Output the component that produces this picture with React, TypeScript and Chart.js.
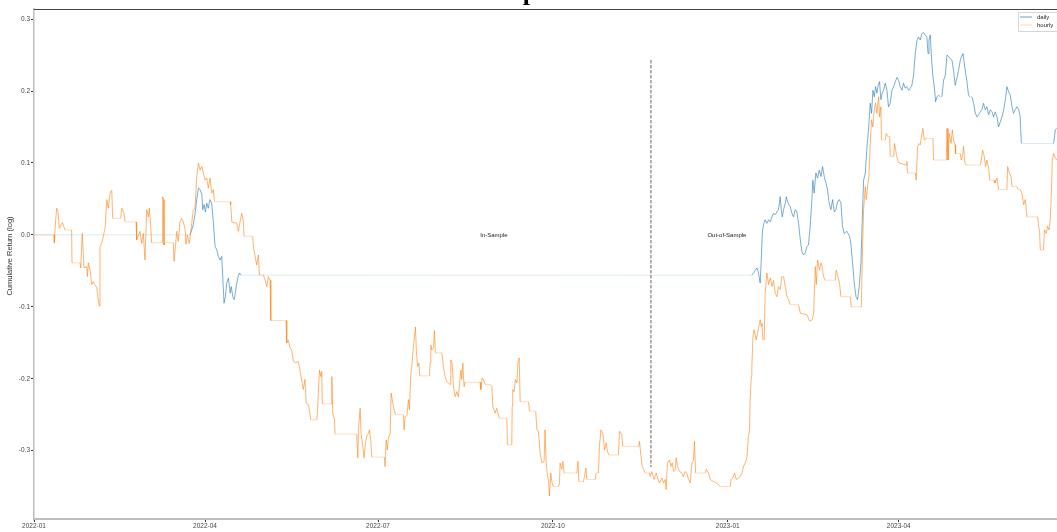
import React, { useEffect, useRef } from 'react';
import { Chart, registerables } from 'chart.js';

Chart.register(...registerables);

// ---- data (x = days since 2022-01-01, y = cumulative log return) ----
const seriesNames = ['daily', 'hourly'];

const dailySeries: [number, number][] = [
  [0,0],[82.1,0],[83.0,0.007],[83.8,0.014],[84.7,0.028],[85.6,0.049],[86.5,0.065],[87.4,0.063],[88.3,0.056],[88.8,0.035],[89.5,0.042],[90.2,0.032],[90.9,0.044],[91.7,0.037],[92.6,0.049],[93.5,0.044],[94.4,0.016],[95.3,-0.016],[96.2,-0.021],[97.0,-0.030],[97.9,-0.035],[98.8,-0.030],[99.3,-0.058],[100.0,-0.095],[100.7,-0.086],[101.4,-0.067],[102.3,-0.060],[103.2,-0.081],[103.8,-0.072],[104.6,-0.086],[105.3,-0.090],[105.9,-0.081],[106.7,-0.067],[107.4,-0.058],[108.1,-0.053],[108.8,-0.056],
  [377.7,-0.056],[378.6,-0.053],[379.5,-0.049],[380.4,-0.046],[381.2,-0.053],[382.1,-0.067],[382.6,-0.039],[383.2,0.002],[383.8,0.014],[384.7,0.021],[385.6,0.016],[386.5,0.021],[387.4,0.018],[388.3,0.025],[389.1,0.030],[390.0,0.028],[390.9,0.032],[391.7,0.035],[392.3,0.046],[392.6,0.053],[393.2,0.035],[393.7,0.025],[394.4,0.035],[395.3,0.044],[395.8,0.053],[396.5,0.046],[397.2,0.042],[397.9,0.039],[398.8,0.030],[399.6,0.025],[400.5,0.035],[401.4,0.032],[402.3,0.016],[403.2,-0.007],[404.0,-0.023],[404.9,-0.028],[405.8,-0.025],[406.7,-0.016],[407.5,-0.014],
  [408.4,0.012],[409.3,0.049],[409.8,0.076],[410.5,0.058],[411.4,0.086],[412.3,0.079],[413.2,0.090],[414.1,0.081],[414.9,0.095],[415.8,0.081],[416.7,0.072],[417.5,0.063],[418.4,0.044],[419.3,0.035],[420.2,0.049],[421.1,0.032],[421.9,0.035],[422.8,0.046],[423.7,0.049],[424.6,0.044],[425.4,0.012],[426.3,0.002],[427.7,0.005],[429.1,-0.002],[429.8,-0.012],[430.7,-0.039],[431.6,-0.067],[432.5,-0.086],[433.3,-0.090],[434.2,-0.072],[435.1,-0.039],[435.8,0.021],[436.5,0.076],[437.4,0.086],[438.3,0.123],[439.1,0.146],[440.0,0.183],[440.7,0.169],[441.4,0.201],[442.1,0.192],[442.8,0.206],[443.5,0.197],[444.2,0.208],[444.9,0.213],[445.6,0.188],[446.3,0.197],[447.0,0.201],[447.9,0.211],[448.8,0.201],[449.6,0.178],[450.5,0.183],[451.4,0.201],[452.3,0.206],[453.2,0.213],[454.1,0.219],[454.9,0.215],[455.8,0.206],[456.7,0.201],[457.5,0.211],[458.4,0.204],[459.3,0.206],[460.2,0.201],[461.1,0.204],[461.9,0.208],[462.8,0.222],[463.7,0.252],[464.6,0.271],[465.4,0.275],[466.3,0.271],[467.2,0.280],[468.1,0.281],[468.9,0.278],[469.8,0.275],[470.4,0.252],[470.9,0.271],[471.6,0.278],[472.3,0.243],[473.0,0.220],[473.7,0.206],[474.4,0.185],[475.1,0.192],[476.0,0.194],[476.8,0.192],[477.7,0.192],[478.6,0.215],[479.5,0.222],[480.4,0.250],[481.2,0.248],[482.1,0.245],[483.0,0.243],[483.8,0.229],[484.7,0.208],[485.6,0.218],[486.5,0.229],[487.4,0.243],[488.3,0.250],[488.8,0.252],[489.5,0.238],[490.2,0.225],[490.9,0.213],[491.7,0.194],[492.6,0.192],[493.5,0.192],[494.4,0.183],[495.3,0.169],[496.2,0.164],[497.0,0.167],[497.9,0.171],[498.8,0.174],[499.6,0.183],[500.5,0.174],[501.4,0.178],[502.3,0.167],[503.2,0.174],[504.1,0.171],[504.9,0.164],[505.8,0.171],[506.7,0.164],[507.5,0.150],[508.4,0.157],[509.3,0.164],[510.2,0.174],[511.1,0.188],[511.9,0.206],[512.8,0.199],[513.7,0.194],[514.6,0.178],[515.4,0.169],[516.3,0.174],[517.2,0.178],[518.1,0.174],[518.9,0.164],[519.5,0.127],[536.5,0.127],[537.4,0.146],[538.2,0.148]
];

const hourlySeries: [number, number][] = [
  [0,0],[10.6,0],[10.7,-0.011],[11.1,0.009],[11.9,0.037],[12.6,0.032],[13.3,0.009],[14.9,0.017],[16.3,0.007],[19.8,0.007],[20.0,-0.039],[24.2,-0.039],[24.6,-0.046],[25.4,0.002],[26.3,-0.046],[27.7,-0.044],[28.1,-0.058],[28.6,-0.039],[29.5,-0.049],[30.4,-0.069],[31.2,-0.065],[32.5,-0.072],[33.0,-0.072],[33.8,-0.090],[34.4,-0.099],[34.7,-0.016],[35.6,-0.012],[37.4,0.009],[38.3,0.049],[39.1,0.037],[40.0,0.058],[40.9,0.062],[41.4,0.023],[45.6,0.023],[46.2,0.037],[47.4,0.030],[47.9,0.018],[53.7,0.018],[54.0,-0.007],[55.8,0.005],[56.7,-0.012],[57.5,0.002],[58.4,-0.035],[59.3,0.035],[60.2,0.025],[60.7,0.037],[61.4,0.012],[61.9,-0.011],[67.5,-0.011],[67.7,0.053],[68.3,0.049],[68.4,-0.014],[68.9,-0.011],[73.3,-0.011],[73.7,-0.037],[75.1,0.005],[75.9,-0.009],[76.8,0.018],[77.7,0.023],[78.6,0.018],[79.5,0.007],[80.0,-0.013],[80.7,0.000],[81.7,-0.012],[83.0,0.016],[83.8,0.035],[84.7,0.037],[85.6,0.079],[86.5,0.100],[87.4,0.090],[88.3,0.095],[89.1,0.086],[90.0,0.076],[90.9,0.079],[91.7,0.065],[92.6,0.079],[93.5,0.058],[94.4,0.063],[94.9,0.046],[103.2,0.046],[103.5,0.042],[104.1,0.018],[106.7,0.016],[107.5,0.005],[108.4,0.018],[109.3,0.030],[110.2,0.018],[110.5,-0.002],[115.1,-0.002],[115.4,-0.016],[117.2,-0.042],[118.1,-0.028],[118.6,-0.056],[120.7,-0.056],[121.6,-0.063],[122.5,-0.072],[123.3,-0.058],[124.2,-0.063],[124.6,-0.119],[132.6,-0.119],[133.0,-0.150],[133.8,-0.146],[134.7,-0.157],[135.6,-0.160],[136.5,-0.176],[137.4,-0.178],[139.1,-0.176],[139.6,-0.183],[141.7,-0.215],[142.6,-0.201],[143.2,-0.234],[144.4,-0.236],[144.9,-0.243],[145.6,-0.257],[148.8,-0.257],[149.1,-0.248],[150.2,-0.188],[150.9,-0.197],[151.4,-0.190],[151.7,-0.235],[156.3,-0.235],[156.7,-0.197],[157.2,-0.248],[158.1,-0.257],[158.4,-0.277],[169.8,-0.277],[170.4,-0.310],[170.7,-0.271],[171.6,-0.241],[172.1,-0.276],[173.0,-0.294],[173.7,-0.310],[174.4,-0.289],[175.1,-0.280],[176.0,-0.276],[176.5,-0.271],[177.2,-0.285],[177.7,-0.309],[184.4,-0.309],[184.7,-0.322],[185.3,-0.285],[185.9,-0.299],[186.5,-0.282],[187.4,-0.276],[187.9,-0.220],[188.8,-0.234],[189.5,-0.243],[190.2,-0.250],[194.4,-0.250],[194.7,-0.271],[195.3,-0.252],[196.2,-0.252],[197.0,-0.229],[197.5,-0.243],[198.3,-0.192],[198.8,-0.183],[199.6,-0.155],[200.2,-0.141],[200.7,-0.128],[201.2,-0.164],[201.9,-0.183],[202.5,-0.178],[203.0,-0.196],[208.1,-0.196],[208.4,-0.178],[208.8,-0.153],[209.3,-0.160],[210.2,-0.157],[210.7,-0.133],[211.2,-0.164],[214.6,-0.164],[215.4,-0.183],[216.3,-0.197],[217.2,-0.204],[218.1,-0.206],[218.9,-0.208],[219.3,-0.174],[220.0,-0.178],[220.7,-0.211],[221.6,-0.225],[222.5,-0.218],[223.3,-0.225],[223.8,-0.211],[224.6,-0.188],[225.1,-0.201],[225.6,-0.178],[226.3,-0.211],[226.8,-0.205],[234.7,-0.205],[235.1,-0.215],[235.8,-0.199],[236.5,-0.201],[237.4,-0.208],[240.0,-0.208],[240.9,-0.211],[241.4,-0.238],[242.6,-0.248],[243.5,-0.241],[244.4,-0.252],[244.9,-0.255],[248.8,-0.255],[249.1,-0.292],[251.4,-0.292],[251.6,-0.238],[251.9,-0.215],[252.6,-0.218],[253.3,-0.201],[254.1,-0.206],[254.6,-0.178],[255.3,-0.171],[255.8,-0.232],[260.2,-0.232],[260.7,-0.245],[264.0,-0.245],[264.6,-0.271],[265.4,-0.273],[266.3,-0.303],[267.2,-0.317],[268.4,-0.315],[268.9,-0.271],[269.5,-0.317],[270.2,-0.336],[270.7,-0.340],[271.2,-0.363],[271.9,-0.331],[272.6,-0.345],[273.3,-0.350],[275.9,-0.350],[276.5,-0.345],[276.8,-0.317],[277.7,-0.326],[278.3,-0.315],[278.9,-0.331],[285.6,-0.331],[286.2,-0.315],[286.7,-0.343],[289.1,-0.343],[289.6,-0.336],[290.4,-0.324],[290.9,-0.340],[295.3,-0.340],[295.8,-0.331],[297.0,-0.331],[297.5,-0.294],[298.3,-0.271],[299.3,-0.276],[300.2,-0.299],[301.1,-0.289],[301.7,-0.301],[302.5,-0.306],[307.5,-0.306],[308.1,-0.273],[309.3,-0.278],[309.8,-0.294],[318.1,-0.294],[318.6,-0.287],[319.3,-0.306],[320.0,-0.322],[320.7,-0.326],[321.6,-0.331],[323.8,-0.331],[324.2,-0.336],[325.1,-0.329],[326.3,-0.340],[327.4,-0.331],[328.1,-0.338],[329.1,-0.345],[330.4,-0.338],[331.2,-0.345],[332.1,-0.340],[332.6,-0.354],[333.3,-0.317],[334.4,-0.313],[335.1,-0.322],[335.8,-0.317],[336.5,-0.329],[337.4,-0.326],[337.9,-0.310],[338.6,-0.322],[339.6,-0.329],[340.9,-0.331],[341.7,-0.336],[342.6,-0.329],[343.5,-0.331],[344.4,-0.340],[345.3,-0.345],[346.2,-0.317],[347.0,-0.313],[347.5,-0.287],[348.1,-0.331],[353.2,-0.331],[353.7,-0.326],[354.9,-0.331],[355.8,-0.340],[357.5,-0.343],[359.3,-0.345],[361.1,-0.350],[366.3,-0.350],[366.8,-0.340],[367.7,-0.338],[368.6,-0.331],[369.5,-0.340],[370.7,-0.338],[371.6,-0.336],[372.5,-0.331],[373.3,-0.322],[374.2,-0.317],[375.1,-0.310],[375.9,-0.280],[376.5,-0.271],[376.8,-0.229],[377.4,-0.197],[377.7,-0.183],[378.3,-0.141],[378.9,-0.132],[380.0,-0.146],[380.7,-0.137],[381.4,-0.127],[382.1,-0.118],[382.6,-0.127],[383.0,-0.123],[383.5,-0.146],[384.2,-0.146],[384.7,-0.081],[385.6,-0.053],[386.5,-0.069],[387.4,-0.060],[388.3,-0.072],[389.1,-0.063],[390.0,-0.081],[390.9,-0.086],[391.7,-0.072],[392.6,-0.076],[393.5,-0.058],[394.4,-0.058],[395.3,-0.072],[396.2,-0.086],[397.0,-0.090],[397.9,-0.097],[402.3,-0.097],[403.2,-0.109],[406.7,-0.111],[408.1,-0.120],[409.5,-0.118],[410.2,-0.109],[411.1,-0.044],[411.6,-0.069],[412.3,-0.035],[413.3,-0.049],[414.1,-0.039],[414.7,-0.044],[415.4,-0.058],[416.3,-0.063],[421.6,-0.063],[422.1,-0.049],[423.0,-0.058],[423.8,-0.067],[424.6,-0.086],[429.5,-0.086],[430.0,-0.100],[435.3,-0.100],[435.8,-0.035],[436.5,0.035],[437.4,0.067],[437.9,0.049],[438.6,0.067],[439.3,0.081],[440.0,0.127],[440.7,0.160],[441.4,0.150],[442.1,0.174],[442.8,0.183],[443.5,0.169],[444.4,0.192],[444.9,0.164],[445.6,0.178],[445.9,0.132],[447.9,0.132],[448.4,0.141],[449.1,0.137],[450.2,0.137],[450.5,0.109],[452.3,0.109],[452.8,0.127],[453.7,0.113],[454.4,0.104],[455.1,0.100],[458.9,0.097],[459.3,0.102],[459.6,0.086],[463.7,0.086],[464.2,0.076],[464.9,0.123],[465.6,0.127],[466.3,0.125],[467.2,0.141],[467.7,0.148],[468.4,0.132],[469.5,0.134],[473.0,0.134],[473.3,0.104],[480.0,0.104],[480.4,0.148],[480.9,0.104],[481.6,0.141],[482.5,0.127],[483.2,0.146],[483.8,0.132],[484.6,0.125],[484.9,0.113],[487.4,0.113],[487.9,0.104],[488.6,0.111],[489.1,0.123],[489.8,0.100],[490.5,0.097],[497.9,0.097],[498.4,0.104],[499.1,0.118],[500.0,0.109],[500.7,0.095],[501.4,0.104],[502.3,0.093],[502.8,0.076],[505.3,0.076],[505.6,0.072],[506.7,0.079],[507.5,0.063],[511.9,0.063],[512.3,0.095],[513.2,0.086],[514.1,0.081],[514.6,0.067],[517.2,0.067],[517.7,0.063],[518.9,0.063],[519.8,0.058],[520.7,0.042],[521.6,0.049],[522.5,0.025],[528.1,0.025],[528.6,0.012],[529.1,0.005],[529.5,-0.021],[531.2,-0.021],[531.7,0.007],[532.6,0.002],[533.3,0.012],[534.1,0.007],[534.7,0.021],[535.3,0.058],[535.8,0.104],[536.5,0.113],[537.4,0.107],[538.2,0.104]
];

const xTickDays = [0, 90, 181, 273, 365, 455];
const xTickLabels = ['2022-01', '2022-04', '2022-07', '2022-10', '2023-01', '2023-04'];
const yTickValues = [-0.3, -0.2, -0.1, 0.0, 0.1, 0.2, 0.3];
const splitDay = 324.6;
const splitLineRange = [-0.323, 0.243];
const periodLabels = ['In-Sample', 'Out-of-Sample'];
const periodLabelDays = [242, 364.6];
const titleText = 'Comparison';
const yAxisTitle = 'Cumulative Return (log)';

const COLORS = ['rgba(31,119,180,0.75)', 'rgba(255,127,14,0.75)'];
const FLAT_COLORS = ['rgba(31,119,180,0.2)', 'rgba(255,127,14,0.35)'];
const LEGEND_COLORS = ['rgba(31,119,180,0.7)', 'rgba(255,127,14,0.3)'];
const CANVAS_W = 1066;
const CANVAS_H = 532;

function flatSegment(i: number) {
  return (ctx: any) => (ctx.p0.parsed.y === ctx.p1.parsed.y ? FLAT_COLORS[i] : undefined);
}

export default function App() {
  const ref = useRef<HTMLCanvasElement | null>(null);

  useEffect(() => {
    const canvas = ref.current;
    if (!canvas) return;

    const overlay = {
      id: 'overlay',
      afterDatasetsDraw(chart: any) {
        const { ctx, chartArea, scales } = chart;
        const xs = scales.x;
        const ys = scales.y;
        ctx.save();
        // split line
        const sx = xs.getPixelForValue(splitDay);
        ctx.strokeStyle = '#9a9a9a';
        ctx.lineWidth = 1.5;
        ctx.setLineDash([3.5, 1.5]);
        ctx.beginPath();
        ctx.moveTo(sx, ys.getPixelForValue(splitLineRange[1]));
        ctx.lineTo(sx, ys.getPixelForValue(splitLineRange[0]));
        ctx.stroke();
        ctx.setLineDash([]);
        // period labels
        ctx.fillStyle = '#222';
        ctx.font = '6px "Liberation Sans"';
        ctx.textAlign = 'center';
        ctx.textBaseline = 'middle';
        periodLabels.forEach((t, i) => {
          ctx.fillText(t, xs.getPixelForValue(periodLabelDays[i]), ys.getPixelForValue(0));
        });
        // top spine
        ctx.strokeStyle = '#444';
        ctx.lineWidth = 1;
        ctx.beginPath();
        ctx.moveTo(chartArea.left, chartArea.top + 0.5);
        ctx.lineTo(chartArea.right, chartArea.top + 0.5);
        ctx.stroke();
        // legend
        const lx = chartArea.right - 48;
        const ly = chartArea.top + 3;
        ctx.fillStyle = 'rgba(255,255,255,0.85)';
        ctx.strokeStyle = '#d6d6d6';
        ctx.lineWidth = 1;
        ctx.beginPath();
        ctx.rect(lx + 0.5, ly + 0.5, 60, 19);
        ctx.fill();
        ctx.stroke();
        seriesNames.forEach((name, i) => {
          const yy = ly + 5 + i * 8;
          ctx.strokeStyle = LEGEND_COLORS[i];
          ctx.lineWidth = 1;
          ctx.beginPath();
          ctx.moveTo(lx + 2, yy);
          ctx.lineTo(lx + 14, yy);
          ctx.stroke();
          ctx.fillStyle = '#222';
          ctx.font = '6px "Liberation Sans"';
          ctx.textAlign = 'left';
          ctx.textBaseline = 'middle';
          ctx.fillText(name, lx + 19, yy);
        });
        // title (mostly above the visible page)
        ctx.fillStyle = '#000';
        ctx.font = 'bold 26px "Liberation Serif"';
        ctx.textAlign = 'center';
        ctx.textBaseline = 'alphabetic';
        ctx.fillText(titleText, 538, 0);
        // y axis title
        ctx.save();
        ctx.translate(10, 256);
        ctx.rotate(-Math.PI / 2);
        ctx.font = '7.5px "Liberation Sans"';
        ctx.fillStyle = '#333';
        ctx.textAlign = 'center';
        ctx.textBaseline = 'middle';
        ctx.fillText(yAxisTitle, 0, 0);
        ctx.restore();
        ctx.restore();
      },
    };

    const chart = new Chart(canvas, {
      type: 'line',
      data: {
        datasets: [
          {
            label: seriesNames[0],
            data: dailySeries.map(([x, y]) => ({ x, y })),
            borderColor: COLORS[0],
            borderWidth: 0.8,
            pointRadius: 0,
            fill: false,
            tension: 0,
            order: 1,
            segment: { borderColor: flatSegment(0) },
          },
          {
            label: seriesNames[1],
            data: hourlySeries.map(([x, y]) => ({ x, y })),
            borderColor: COLORS[1],
            borderWidth: 0.8,
            pointRadius: 0,
            fill: false,
            tension: 0,
            order: 0,
            segment: { borderColor: flatSegment(1) },
          },
        ],
      },
      options: {
        responsive: false,
        animation: false,
        devicePixelRatio: 1,
        layout: { padding: { top: 9, left: 0, right: 0, bottom: 0 } },
        plugins: {
          legend: { display: false },
          tooltip: { enabled: false },
          title: { display: false },
        },
        scales: {
          x: {
            type: 'linear',
            min: 0,
            max: 543,
            afterBuildTicks: (scale: any) => {
              scale.ticks = xTickDays.map((v) => ({ value: v }));
            },
            afterFit: (scale: any) => {
              scale.height = 13;
            },
            ticks: {
              autoSkip: false,
              maxRotation: 0,
              padding: 0,
              color: '#444',
              font: { family: 'Liberation Sans', size: 6.5 },
              callback: (v: any) => {
                const i = xTickDays.indexOf(Number(v));
                return i >= 0 ? xTickLabels[i] : '';
              },
            },
            grid: { display: true, drawOnChartArea: false, drawTicks: true, tickLength: 3, tickColor: '#333' },
            border: { display: true, color: '#bdbdbd', width: 2 },
          },
          y: {
            type: 'linear',
            min: -0.395,
            max: 0.314,
            afterBuildTicks: (scale: any) => {
              scale.ticks = yTickValues.map((v) => ({ value: v }));
            },
            afterFit: (scale: any) => {
              scale.width = 34;
            },
            ticks: {
              padding: 1,
              color: '#444',
              font: { family: 'Liberation Sans', size: 6.5 },
              callback: (v: any) => Number(v).toFixed(1),
            },
            grid: { display: true, drawOnChartArea: false, drawTicks: true, tickLength: 3, tickColor: '#333' },
            border: { display: true, color: '#bdbdbd', width: 1.5 },
          },
        },
      },
      plugins: [overlay],
    });

    return () => chart.destroy();
  }, []);

  return (
    <div style={{ position: 'fixed', left: 0, top: 0, width: 1057, height: CANVAS_H, overflow: 'hidden', background: '#fff' }}>
      <canvas ref={ref} width={CANVAS_W} height={CANVAS_H} style={{ display: 'block', width: CANVAS_W, height: CANVAS_H }} />
    </div>
  );
}
